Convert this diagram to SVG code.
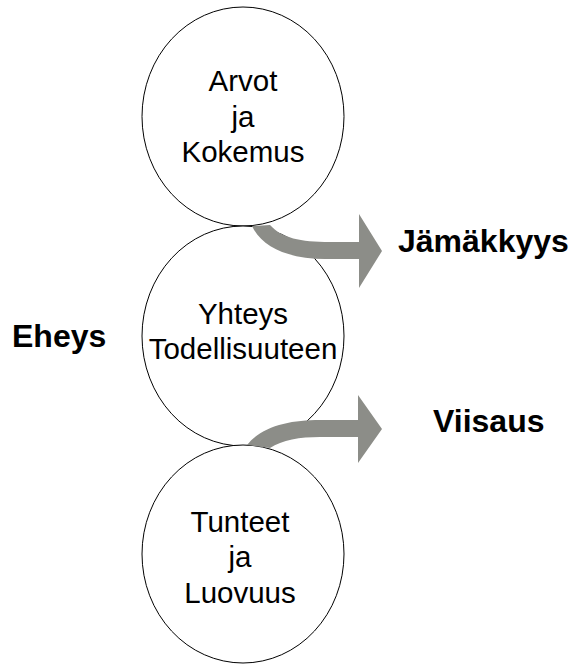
<svg xmlns="http://www.w3.org/2000/svg" width="575" height="664" viewBox="0 0 575 664">
<style>
.c{fill:#fff;stroke:#000;stroke-width:1}
.t{font-family:"Liberation Sans",Arial,sans-serif;font-size:29.5px;fill:#000;text-anchor:middle}
.b{font-family:"Liberation Sans",Arial,sans-serif;font-size:32px;font-weight:bold;fill:#000}
.a{fill:#8c8d88;stroke:none}
</style>
<rect width="575" height="664" fill="#fff"/>
<g id="node-arvot">
<ellipse class="c" cx="243" cy="116.5" rx="101" ry="109.5"/>
<text class="t" x="243" y="91">Arvot</text>
<text class="t" x="243" y="127">ja</text>
<text class="t" x="243" y="162">Kokemus</text>
</g>
<g id="node-yhteys">
<ellipse class="c" cx="243" cy="336" rx="101" ry="110"/>
<text class="t" x="243" y="324">Yhteys</text>
<text class="t" x="243" y="359">Todellisuuteen</text>
</g>
<g id="node-tunteet">
<ellipse class="c" cx="243" cy="554" rx="101" ry="109"/>
<text class="t" x="240" y="532">Tunteet</text>
<text class="t" x="240" y="567">ja</text>
<text class="t" x="240" y="603">Luovuus</text>
</g>
<g id="connectors">
<path class="a" d="M252,226 L270,225 C282,238 300,242 330,242 L359,242 L359,214 L382,251 L359,288 L359,259 L325,259 C290,259 262,248 252,226 Z"/>
<path class="a" d="M247,445 C262,426 290,420 320,420 L358,420 L358,395 L382,429 L358,463 L358,437 L320,437 C300,437 282,440 270,448 Z"/>
</g>
<g id="labels">
<text class="b" x="398" y="252">Jämäkkyys</text>
<text class="b" x="433" y="432">Viisaus</text>
<text class="b" x="12" y="347">Eheys</text>
</g>
</svg>
